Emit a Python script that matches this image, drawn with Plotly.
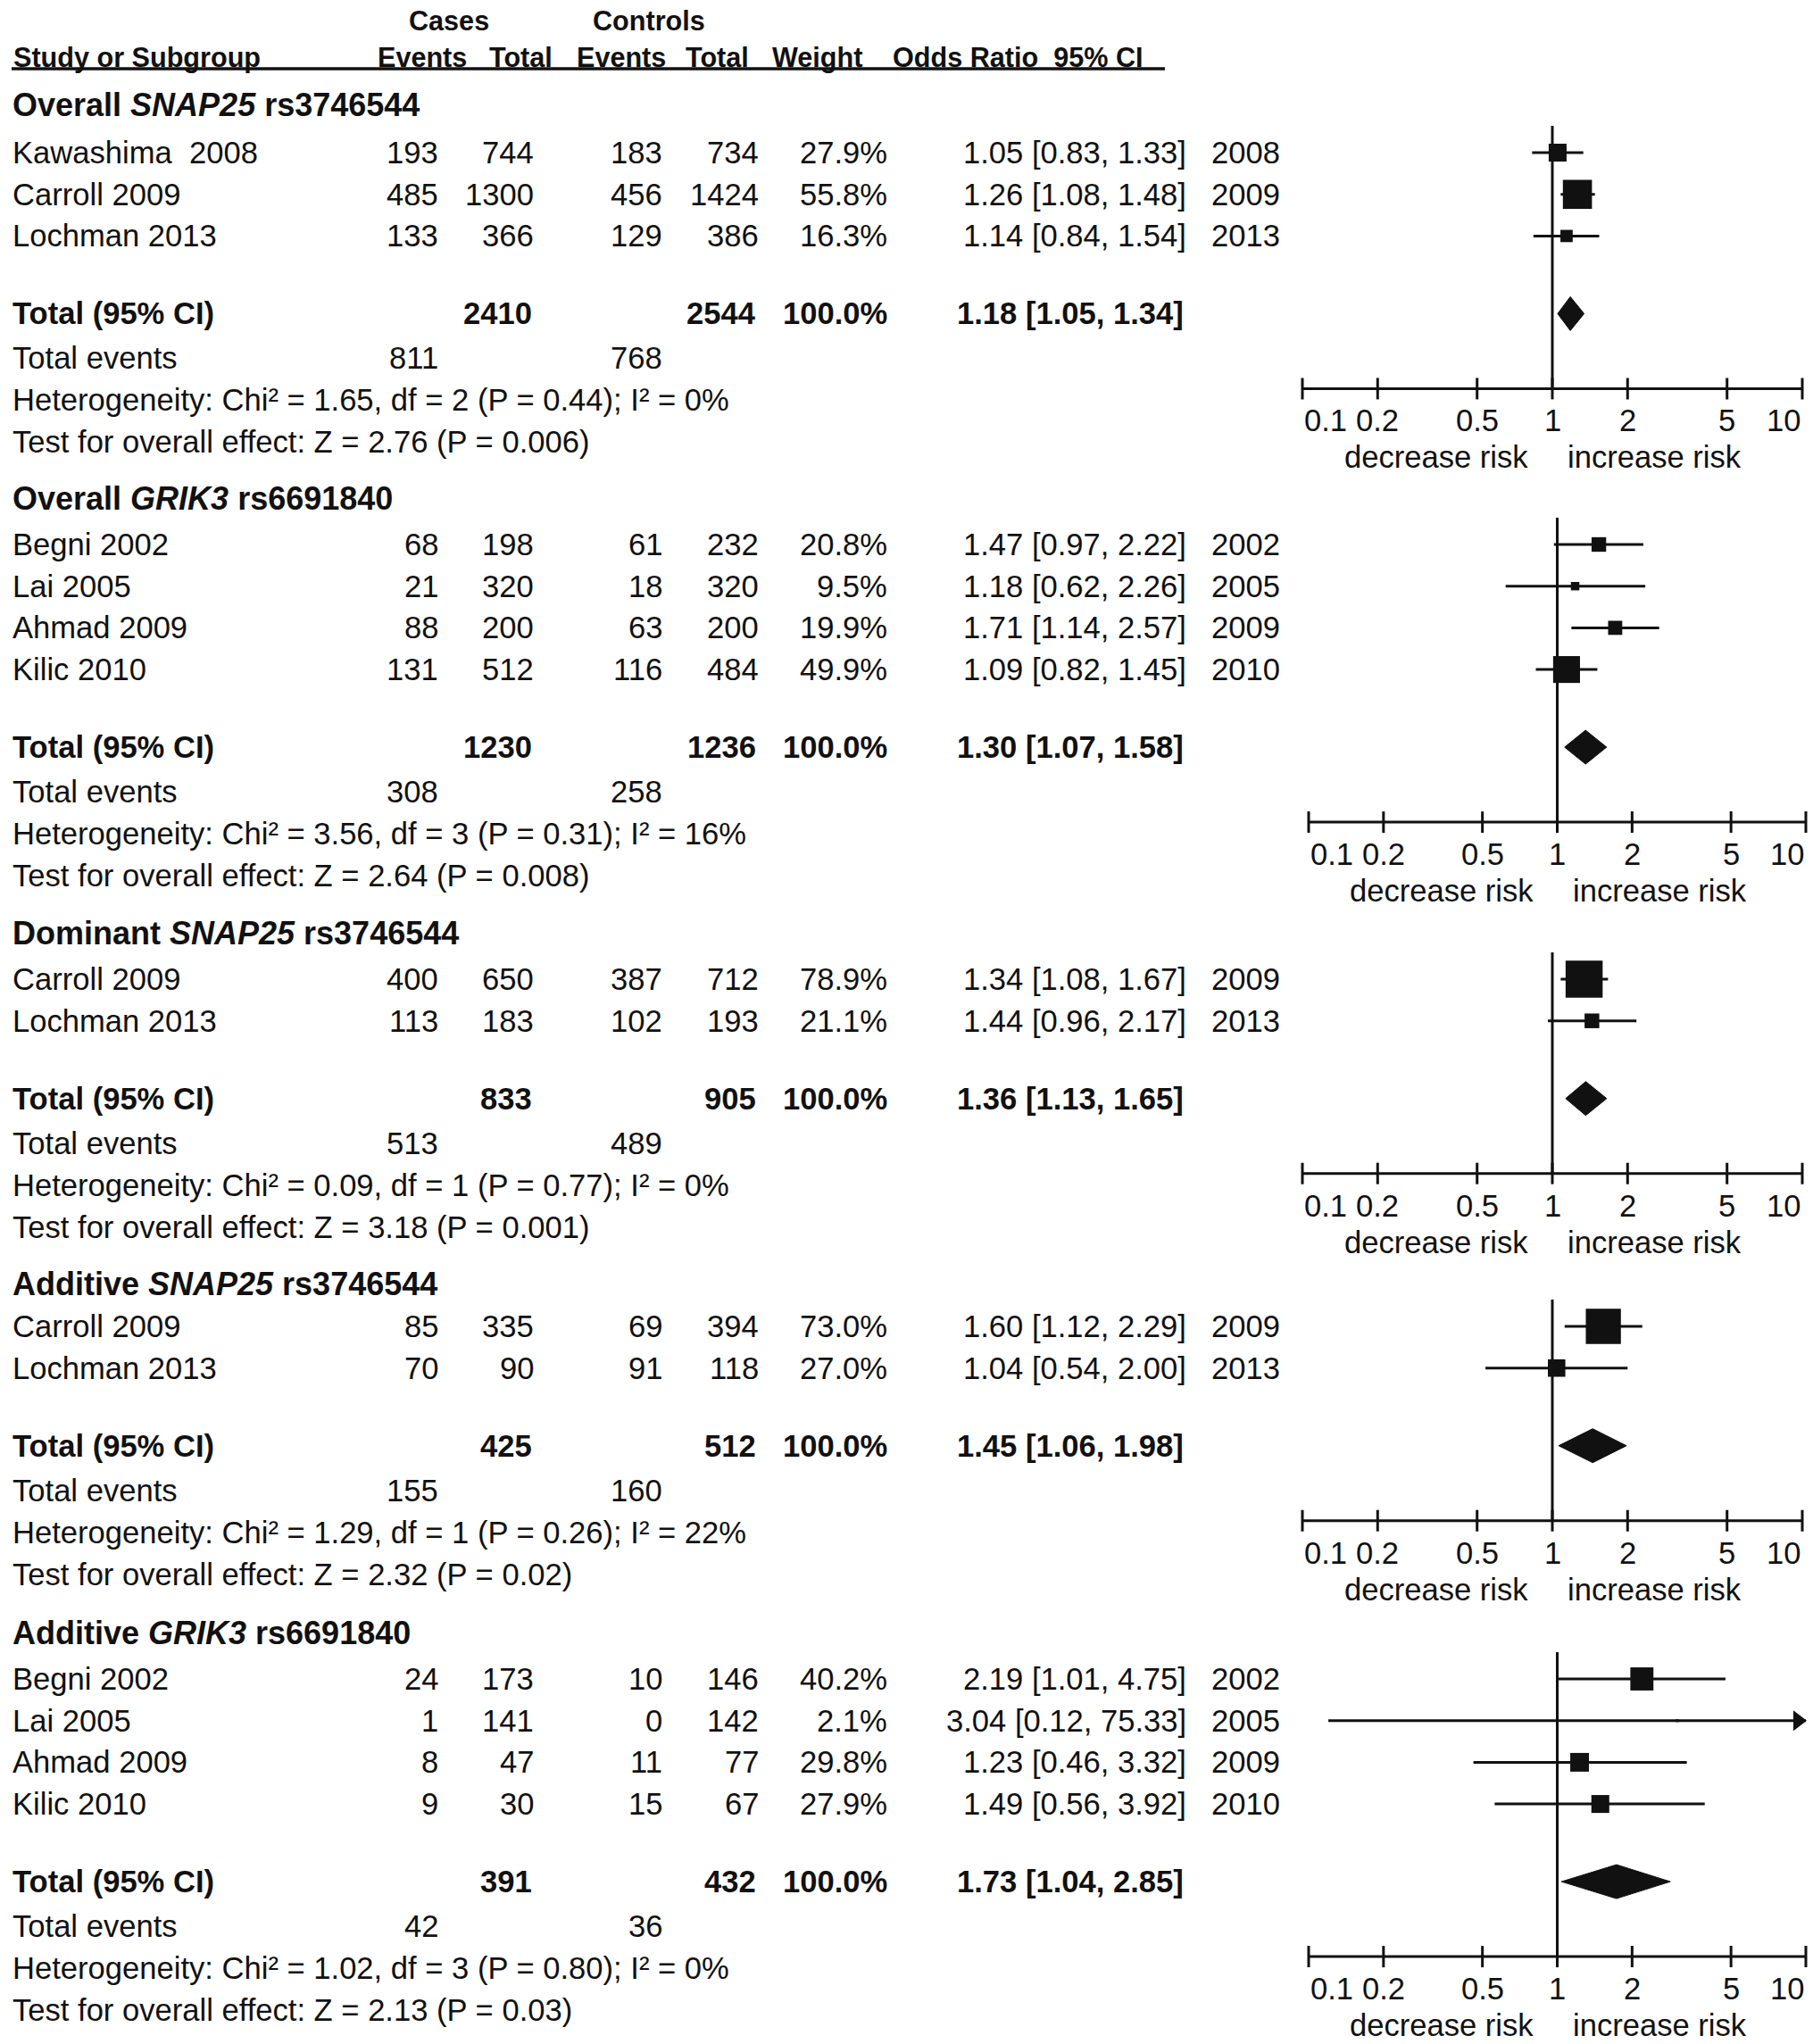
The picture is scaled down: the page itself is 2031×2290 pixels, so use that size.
import math
import plotly.graph_objects as go

W, H = 2031, 2290
FONT = "Liberation Sans, Arial, Helvetica, sans-serif"
INK = "#111111"

# ---------------- data ----------------
section_titles = [
    "<b>Overall <i>SNAP25</i> rs3746544</b>",
    "<b>Overall <i>GRIK3</i> rs6691840</b>",
    "<b>Dominant <i>SNAP25</i> rs3746544</b>",
    "<b>Additive <i>SNAP25</i> rs3746544</b>",
    "<b>Additive <i>GRIK3</i> rs6691840</b>",
]
study = [
    ["Kawashima  2008", "Carroll 2009", "Lochman 2013"],
    ["Begni 2002", "Lai 2005", "Ahmad 2009", "Kilic 2010"],
    ["Carroll 2009", "Lochman 2013"],
    ["Carroll 2009", "Lochman 2013"],
    ["Begni 2002", "Lai 2005", "Ahmad 2009", "Kilic 2010"],
]
case_events = [[193, 485, 133], [68, 21, 88, 131], [400, 113], [85, 70], [24, 1, 8, 9]]
case_total = [[744, 1300, 366], [198, 320, 200, 512], [650, 183], [335, 90], [173, 141, 47, 30]]
ctrl_events = [[183, 456, 129], [61, 18, 63, 116], [387, 102], [69, 91], [10, 0, 11, 15]]
ctrl_total = [[734, 1424, 386], [232, 320, 200, 484], [712, 193], [394, 118], [146, 142, 77, 67]]
weight = [[27.9, 55.8, 16.3], [20.8, 9.5, 19.9, 49.9], [78.9, 21.1], [73.0, 27.0], [40.2, 2.1, 29.8, 27.9]]
odds = [[1.05, 1.26, 1.14], [1.47, 1.18, 1.71, 1.09], [1.34, 1.44], [1.60, 1.04], [2.19, 3.04, 1.23, 1.49]]
ci_low = [[0.83, 1.08, 0.84], [0.97, 0.62, 1.14, 0.82], [1.08, 0.96], [1.12, 0.54], [1.01, 0.12, 0.46, 0.56]]
ci_high = [[1.33, 1.48, 1.54], [2.22, 2.26, 2.57, 1.45], [1.67, 2.17], [2.29, 2.00], [4.75, 75.33, 3.32, 3.92]]
year = [[2008, 2009, 2013], [2002, 2005, 2009, 2010], [2009, 2013], [2009, 2013], [2002, 2005, 2009, 2010]]

total_case = [2410, 1230, 833, 425, 391]
total_ctrl = [2544, 1236, 905, 512, 432]
total_or = [1.18, 1.30, 1.36, 1.45, 1.73]
total_lo = [1.05, 1.07, 1.13, 1.06, 1.04]
total_hi = [1.34, 1.58, 1.65, 1.98, 2.85]
events_case = [811, 308, 513, 155, 42]
events_ctrl = [768, 258, 489, 160, 36]
het_chi2 = ["1.65", "3.56", "0.09", "1.29", "1.02"]
het_df = [2, 3, 1, 1, 3]
het_p = ["0.44", "0.31", "0.77", "0.26", "0.80"]
het_i2 = [0, 16, 0, 22, 0]
z_value = ["2.76", "2.64", "3.18", "2.32", "2.13"]
z_p = ["0.006", "0.008", "0.001", "0.02", "0.03"]

tick_vals = [0.1, 0.2, 0.5, 1, 2, 5, 10]
tick_text = ["0.1", "0.2", "0.5", "1", "2", "5", "10"]
favours = ["decrease risk", "increase risk"]

# ---------------- layout constants (pixels) ----------------
title_y = [117, 558, 1045, 1438, 1829]
first_row_y = [171, 610, 1097, 1486, 1881]
ROW = 46.7
X_NAME, X_CEV, X_CTOT, X_KEV, X_KTOT, X_WT, X_OR, X_YEAR = 12, 493, 600, 744, 852, 996, 1331, 1355
X_TOT_CASE, X_TOT_CTRL = 598, 849
pan_left = [1459, 1466, 1459, 1459, 1466]
pan_right = [2019, 2023, 2019, 2019, 2023]
PAD = 0.02
FS = 34.6
FS_TITLE = 36
HF = 30.6

fig = go.Figure()
layout = dict(
    width=W, height=H, margin=dict(l=0, r=0, t=0, b=0),
    paper_bgcolor="white", plot_bgcolor="rgba(0,0,0,0)", showlegend=False,
    xaxis=dict(range=[0, W], domain=[0, 1], visible=False, fixedrange=True),
    yaxis=dict(range=[H, 0], domain=[0, 1], visible=False, fixedrange=True),
)


def txt(x, y, s, anchor="left", size=FS, xref="x"):
    fig.add_annotation(x=x, y=y, xref=xref, yref="y", text=s, showarrow=False,
                       xanchor=anchor, yanchor="middle",
                       font=dict(size=size, color=INK, family=FONT))


# header
fig.add_trace(go.Scatter(x=[13, 1305], y=[77, 77], mode="lines", line=dict(color=INK, width=3.5),
                         hoverinfo="skip", xaxis="x", yaxis="y"))
txt(503, 23, "<b>Cases</b>", "center", HF)
txt(727, 23, "<b>Controls</b>", "center", HF)
txt(13, 64, "<b>Study or Subgroup</b>", "left", HF)
for lx, lab in [(421, "Events"), (546, "Total"), (644, "Events"), (766, "Total"),
                (863, "Weight"), (998, "Odds Ratio  95% CI")]:
    txt(lx, 64, "<b>%s</b>" % lab, "left", HF)

for s in range(5):
    ax = "x%d" % (s + 2)
    a, b = pan_left[s], pan_right[s]
    dec = (b - a) / 2.0
    layout["xaxis%d" % (s + 2)] = dict(
        type="log", range=[-1 - PAD, 1 + PAD],
        domain=[(a - PAD * dec) / W, min(1.0, (b + PAD * dec) / W)],
        visible=False, fixedrange=True, anchor="y")

    n = len(study[s])
    rows = [first_row_y[s] + i * ROW for i in range(n)]
    y_tot = rows[-1] + 87
    y_ev = y_tot + 50
    y_het = y_ev + 47
    y_test = y_het + 47
    y_axis = y_het - 13

    # text table
    txt(X_NAME, title_y[s], section_titles[s], "left", FS_TITLE)
    for i in range(n):
        y = rows[i]
        txt(X_NAME, y, study[s][i])
        txt(X_CEV, y, str(case_events[s][i]), "right")
        txt(X_CTOT, y, str(case_total[s][i]), "right")
        txt(X_KEV, y, str(ctrl_events[s][i]), "right")
        txt(X_KTOT, y, str(ctrl_total[s][i]), "right")
        txt(X_WT, y, "%.1f%%" % weight[s][i], "right")
        txt(X_OR, y, "%.2f [%.2f, %.2f]" % (odds[s][i], ci_low[s][i], ci_high[s][i]), "right")
        txt(X_YEAR, y, str(year[s][i]), "left")
    txt(X_NAME, y_tot, "<b>Total (95% CI)</b>")
    txt(X_TOT_CASE, y_tot, "<b>%d</b>" % total_case[s], "right")
    txt(X_TOT_CTRL, y_tot, "<b>%d</b>" % total_ctrl[s], "right")
    txt(X_WT, y_tot, "<b>100.0%</b>", "right")
    txt(X_OR - 3, y_tot, "<b>%.2f [%.2f, %.2f]</b>" % (total_or[s], total_lo[s], total_hi[s]), "right")
    txt(X_NAME, y_ev, "Total events")
    txt(X_CEV, y_ev, str(events_case[s]), "right")
    txt(X_KEV, y_ev, str(events_ctrl[s]), "right")
    txt(X_NAME, y_het, "Heterogeneity: Chi\u00b2 = %s, df = %d (P = %s); I\u00b2 = %d%%"
        % (het_chi2[s], het_df[s], het_p[s], het_i2[s]))
    txt(X_NAME, y_test, "Test for overall effect: Z = %s (P = %s)" % (z_value[s], z_p[s]))

    line = dict(color=INK, width=3)
    # null line
    fig.add_trace(go.Scatter(x=[1, 1], y=[rows[0] - 30, y_axis], mode="lines", line=line,
                             hoverinfo="skip", xaxis=ax, yaxis="y"))
    # axis line + ticks
    tx, ty = [tick_vals[0], tick_vals[-1], None], [y_axis, y_axis, None]
    for t in tick_vals:
        tx += [t, t, None]
        ty += [y_axis - 12, y_axis + 12, None]
    fig.add_trace(go.Scatter(x=tx, y=ty, mode="lines", line=line, hoverinfo="skip",
                             xaxis=ax, yaxis="y"))
    for t, lab in zip(tick_vals, tick_text):
        anc = "left" if t == tick_vals[0] else ("right" if t == tick_vals[-1] else "center")
        txt(math.log10(t), y_axis + 36, lab, anc, FS, ax)
    fig.add_annotation(x=0, y=y_axis + 77, xref=ax, yref="y", text=favours[0], showarrow=False,
                       xanchor="right", yanchor="middle", xshift=-25,
                       font=dict(size=FS, color=INK, family=FONT))
    fig.add_annotation(x=0, y=y_axis + 77, xref=ax, yref="y", text=favours[1], showarrow=False,
                       xanchor="left", yanchor="middle", xshift=15,
                       font=dict(size=FS, color=INK, family=FONT))

    # confidence intervals
    cx, cy = [], []
    arrows_x, arrows_y = [], []
    for i in range(n):
        lo = max(ci_low[s][i], tick_vals[0])
        hi = min(ci_high[s][i], tick_vals[-1])
        cx += [lo, hi, None]
        cy += [rows[i], rows[i], None]
        if ci_high[s][i] > tick_vals[-1]:
            arrows_x.append(10 ** (1 - 9.0 / dec))
            arrows_y.append(rows[i])
    fig.add_trace(go.Scatter(x=cx, y=cy, mode="lines", line=line, hoverinfo="skip",
                             xaxis=ax, yaxis="y"))
    if arrows_x:
        fig.add_trace(go.Scatter(x=arrows_x, y=arrows_y, mode="markers", cliponaxis=False,
                                 marker=dict(symbol="triangle-right", size=20, color=INK, opacity=1),
                                 hoverinfo="skip", xaxis=ax, yaxis="y"))
    # weight squares
    fig.add_trace(go.Scatter(x=odds[s], y=rows, mode="markers", cliponaxis=False,
                             marker=dict(symbol="square", color=INK, opacity=1, line=dict(width=0),
                                         size=[1.95 * w ** 0.7 for w in weight[s]]),
                             hoverinfo="skip", xaxis=ax, yaxis="y"))
    # pooled diamond
    hd = 19
    fig.add_trace(go.Scatter(
        x=[total_lo[s], total_or[s], total_hi[s], total_or[s], total_lo[s]],
        y=[y_tot, y_tot - hd, y_tot, y_tot + hd, y_tot],
        mode="lines", fill="toself", fillcolor=INK, line=dict(color=INK, width=1),
        hoverinfo="skip", xaxis=ax, yaxis="y"))

fig.update_layout(**layout)
fig.write_html(
    "out.html",
    config={"displayModeBar": False, "staticPlot": True},
    post_script="document.documentElement.style.overflow='hidden';"
                "document.body.style.margin='0';document.body.style.overflow='hidden';",
)
